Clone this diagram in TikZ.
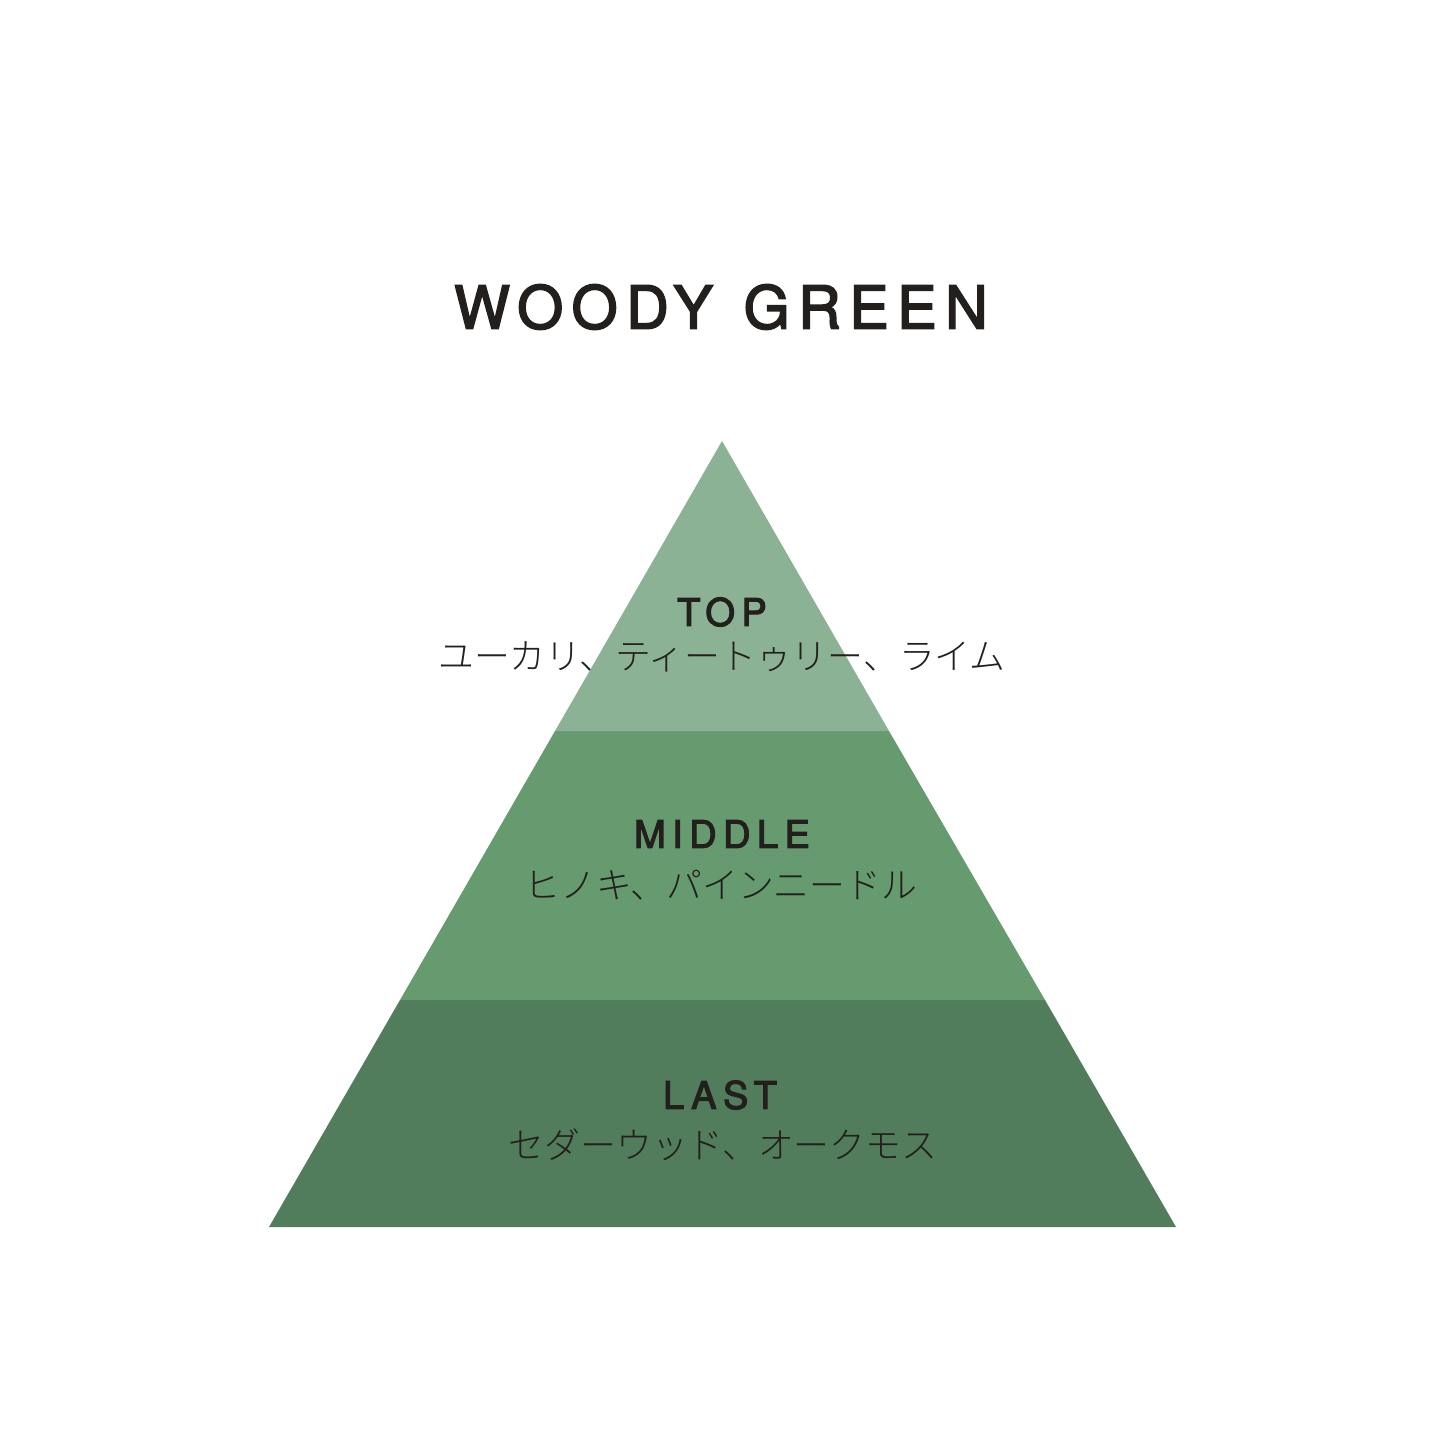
\documentclass[tikz,border=0pt]{standalone}
\usepackage{fontspec}
\newfontfamily\titfont[LetterSpace=14.5,FakeBold=3]{TeX Gyre Heros}
\newfontfamily\latfont[LetterSpace=17,FakeBold=3]{TeX Gyre Heros}
\newfontfamily\cjk{Noto Sans CJK JP Light}
\definecolor{topc}{HTML}{8BB294}
\definecolor{midc}{HTML}{669B70}
\definecolor{lastc}{HTML}{527D5D}
\definecolor{ink}{HTML}{231F1C}
\tikzset{
  title/.style={inner sep=0pt, text=ink, font=\titfont\fontsize{59}{59}\selectfont},
  head/.style={inner sep=0pt, text=ink, font=\latfont\fontsize{38}{38}\selectfont},
  note/.style={inner sep=0pt, text=ink, font=\cjk\fontsize{35.8}{35.8}\selectfont},
}
\begin{document}
\begin{tikzpicture}[x=1pt,y=-1pt]
\useasboundingbox (0,0) rectangle (1445,1445);
\fill[white] (0,0) rectangle (1445,1445);
\coordinate (apex) at (722,441);
\coordinate (t1) at (555,731);
\coordinate (t2) at (889,731);
\coordinate (m1) at (400,1000);
\coordinate (m2) at (1045,1000);
\coordinate (b1) at (269,1227);
\coordinate (b2) at (1176,1227);
\fill[lastc] (m1) -- (m2) -- (b2) -- (b1) -- cycle;
\fill[midc] (t1) -- (t2) -- (m2) -- (m1) -- cycle;
\fill[topc] (apex) -- (t2) -- (t1) -- cycle;
\node[title] (ttl) at (721,307) {WOODY\hspace{6pt} GREEN};
\node[head] (top) at (722,612) {TOP};
\node[note] (topn) at (722,657) {ユーカリ、ティートゥリー、ライム};
\node[head] (mid) at (722,834) {MIDDLE};
\node[note] (midn) at (721,885) {ヒノキ、パインニードル};
\node[head] (last) at (720,1095) {LAST};
\node[note] (lastn) at (723,1145) {セダーウッド、オークモス};
\end{tikzpicture}
\end{document}
